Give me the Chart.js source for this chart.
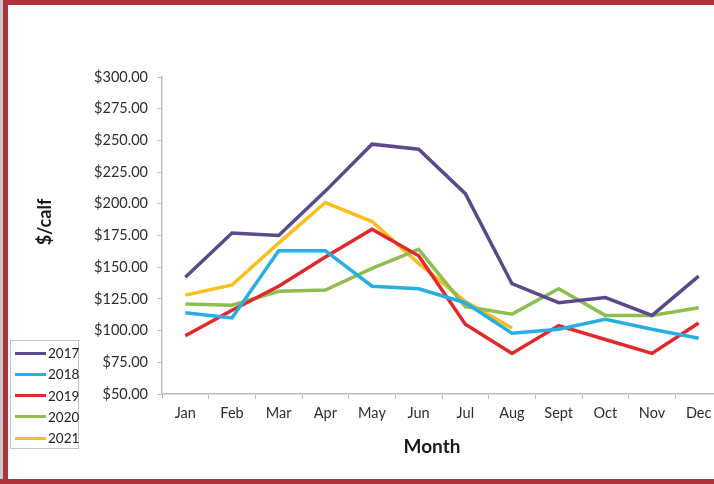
<!DOCTYPE html>
<html>
<head>
<meta charset="utf-8">
<script src="https://cdn.jsdelivr.net/npm/chart.js@4.4.1/dist/chart.umd.min.js"></script>
<style>
  html, body { margin: 0; padding: 0; width: 714px; height: 484px; overflow: hidden; background: #fff; }
  #frame { position: absolute; left: 0; top: 0; width: 714px; height: 484px; overflow: hidden; }
  #chart { position: absolute; left: 0; top: 0; }
  .edge { position: absolute; background: #b0333b; }
  .axis-title { position: absolute; font-family: Lato, "Open Sans", sans-serif; font-weight: bold; color: #1a1a1a; white-space: nowrap; }
  #legend { position: absolute; left: 10px; top: 340px; width: 67px; height: 107px; border: 1px solid #c4c4c4; background: #fff;
            font-family: Lato, "Open Sans", sans-serif; font-size: 13.5px; color: #222; }
  .row { position: absolute; left: 4px; height: 16px; line-height: 16px; }
  .swatch { position: absolute; left: 0; top: 6.5px; width: 31px; height: 3px; }
  .lbl { position: absolute; left: 33px; top: 0; }
</style>
</head>
<body>
<div id="frame">
  <canvas id="chart" width="740" height="484"></canvas>
  <div class="axis-title" style="left:44px; top:222px; font-size:18px; transform: translate(-50%,-50%) rotate(-90deg);">$/calf</div>
  <div class="axis-title" style="left:432px; top:445px; font-size:19px; transform: translate(-50%,-50%);">Month</div>
  <div id="legend"></div>
  <div class="edge" style="left:0; top:0; width:714px; height:5px;"></div>
  <div class="edge" style="left:3px; top:0; width:5px; height:484px;"></div>
  <div style="position:absolute; left:0; top:0; width:3px; height:484px; background:#c8c8c8;"></div>
  <div class="edge" style="left:0; top:479px; width:714px; height:5px;"></div>
</div>
<script>
// Monthly calf prices, dollars per calf
const months = ['Jan', 'Feb', 'Mar', 'Apr', 'May', 'Jun', 'Jul', 'Aug', 'Sept', 'Oct', 'Nov', 'Dec'];
const years = ['2017', '2018', '2019', '2020', '2021'];
const price2017 = [142, 177, 175, 210, 247, 243, 208, 137, 122, 126, 112, 143];
const price2018 = [114, 110, 163, 163, 135, 133, 122, 98, 101, 109, 101, 94];
const price2019 = [96, 116, 135, 158, 180, 159, 105, 82, 104, 93, 82, 106];
const price2020 = [121, 120, 131, 132, 149, 164, 119, 113, 133, 112, 112, 118];
const price2021 = [128, 136, 169, 201, 186, 153, 123, 102, null, null, null, null];
const yTicks = [50, 75, 100, 125, 150, 175, 200, 225, 250, 275, 300];

const seriesValues = [price2017, price2018, price2019, price2020, price2021];
const seriesColors = ['#5b4a8b', '#29aee2', '#e3282b', '#8fbe50', '#fcbd1d'];

const datasets = years.map((y, i) => ({
  label: y,
  data: seriesValues[i],
  borderColor: seriesColors[i],
  backgroundColor: seriesColors[i],
  borderWidth: 3.5,
  pointRadius: 0,
  tension: 0,
  spanGaps: false
}));

// Legend built from the same series list
const legend = document.getElementById('legend');
years.forEach((y, i) => {
  const row = document.createElement('div');
  row.className = 'row';
  row.style.top = (4 + i * 21.3) + 'px';
  row.innerHTML = '<div class="swatch" style="background:' + seriesColors[i] + '"></div><div class="lbl">' + y + '</div>';
  legend.appendChild(row);
});

const tickFont = { family: 'Lato, "Open Sans", sans-serif', size: 14.5 };

new Chart(document.getElementById('chart'), {
  type: 'line',
  data: { labels: months, datasets },
  options: {
    responsive: false,
    animation: false,
    devicePixelRatio: 1,
    layout: { padding: { left: 0, top: 77, right: 18, bottom: 50 } },
    plugins: { legend: { display: false }, tooltip: { enabled: false } },
    scales: {
      x: {
        offset: true,
        grid: { offset: true, drawOnChartArea: false, drawTicks: true, tickLength: 5, color: '#bdbdbd' },
        border: { color: '#bdbdbd', width: 1.5 },
        ticks: { color: '#2e2e2e', font: tickFont, padding: 6, maxRotation: 0, autoSkip: false },
        afterFit: s => { s.height = 40; }
      },
      y: {
        min: 50, max: 300,
        afterBuildTicks: s => { s.ticks = yTicks.map(v => ({ value: v })); },
        grid: { drawOnChartArea: false, drawTicks: true, tickLength: 5, color: '#bdbdbd' },
        border: { color: '#bdbdbd', width: 1.5 },
        ticks: { color: '#2e2e2e', font: tickFont, padding: 9, callback: v => '$' + Number(v).toFixed(2) },
        afterFit: s => { s.width = 162; }
      }
    }
  }
});
</script>
</body>
</html>
